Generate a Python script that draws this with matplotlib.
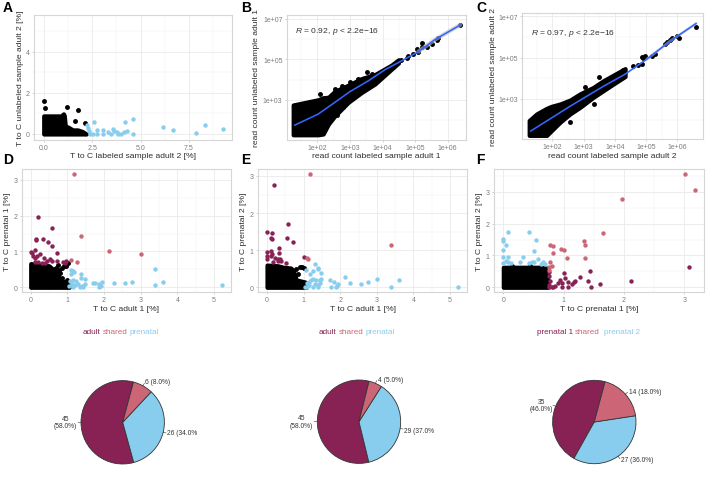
import matplotlib
matplotlib.use("Agg")
import matplotlib.pyplot as plt
import matplotlib.ticker
import numpy as np

plt.rcParams['font.family'] = ['Liberation Sans', 'DejaVu Sans']
plt.rcParams['mathtext.fontset'] = 'custom'
plt.rcParams['mathtext.rm'] = 'Liberation Sans'
plt.rcParams['mathtext.it'] = 'Liberation Sans:italic'

W, H = 709, 502
ADULT, SHARED, BLUE = '#882255', '#CC6677', '#88CCEE'

# ---------- Panel A ----------
a_dense_x = [0, 0.3, 0.6, 0.9, 1.02, 1.06, 1.12, 1.25, 1.5, 1.75, 2.0, 2.2]
a_dense_y = [0.88, 0.88, 0.88, 0.88, 0.98, 0.9, 0.36, 0.34, 0.2, 0.2, 0.12, 0.0]
a_black_x = [0.02, 0.07, 1.22, 1.75, 1.62, 2.13]
a_black_y = [1.59, 1.26, 1.30, 1.17, 0.62, 0.53]
a_blue_x = [2.25, 2.60, 2.31, 2.36, 2.39, 2.53, 2.74, 2.74, 3.04, 3.08, 3.34, 3.46, 3.60, 3.63,
            3.77, 3.85, 3.97, 4.15, 4.28, 4.18, 4.59, 4.59, 6.18, 6.69, 7.86, 8.31, 9.25]
a_blue_y = [0.44, 0.57, 0.28, 0.16, 0.0, 0.0, 0.0, 0.19, 0.19, 0.0, 0.08, 0.0, 0.24, 0.15,
            0.08, 0.0, 0.0, 0.11, 0.15, 0.57, 0.74, 0.0, 0.34, 0.18, 0.03, 0.42, 0.23]

# ---------- Panel B (log10 of read counts) ----------
b_env_x = [1.26, 2.03, 2.18, 2.34, 2.54, 2.95, 3.36, 3.77, 4.28, 4.49]
b_env_lo = [1.26, 1.26, 1.30, 1.79, 2.20, 2.87, 3.36, 3.78, 4.52, 4.82]
b_env_hi = [2.74, 3.00, 3.10, 3.12, 3.42, 3.72, 4.05, 4.25, 4.72, 4.98]
b_pts_x = [2.08, 3.51, 3.00, 2.44, 2.34, 4.56, 4.74, 4.79, 4.95, 5.05, 5.08, 5.21, 5.20, 5.36, 5.51, 5.66, 5.71, 6.38,
           2.54, 2.75, 3.26, 3.67, 2.60, 2.80]
b_pts_y = [3.28, 4.36, 3.86, 2.21, 1.96, 4.97, 5.05, 5.15, 5.26, 5.51, 5.35, 5.81, 5.60, 5.63, 5.76, 5.98, 6.04, 6.72,
           3.53, 3.66, 4.02, 4.27, 2.25, 2.62]
b_fit_x = [1.31, 2.03, 2.54, 3.00, 3.57, 4.08, 4.59, 5.10, 5.61, 6.38]
b_fit_y = [1.74, 2.29, 2.87, 3.40, 3.94, 4.49, 4.93, 5.38, 5.98, 6.70]

# ---------- Panel C (log10 of read counts) ----------
c_env_x = [1.26, 1.50, 1.82, 1.98, 2.25, 2.57, 2.89, 3.31, 3.63, 3.95, 4.33]
c_env_lo = [1.24, 1.24, 1.24, 1.48, 1.88, 2.28, 2.60, 3.08, 3.40, 3.72, 4.09]
c_env_hi = [1.96, 2.28, 2.55, 2.65, 2.76, 2.95, 3.25, 3.56, 3.88, 4.15, 4.47]
c_pts_x = [3.50, 3.33, 2.57, 3.05, 4.27, 4.59, 4.75, 4.86, 4.91, 4.97, 4.86, 5.18, 5.29, 5.61, 5.77, 5.82, 5.66, 5.98, 6.05, 6.60]
c_pts_y = [4.06, 2.76, 1.91, 3.59, 4.41, 4.60, 4.65, 4.68, 5.00, 5.08, 5.05, 5.08, 5.16, 5.64, 5.85, 5.96, 5.75, 6.04, 5.96, 6.49]
c_fit_x = [1.31, 2.57, 3.63, 4.33, 5.02, 5.77, 6.60]
c_fit_y = [1.45, 2.65, 3.61, 4.20, 4.92, 5.80, 6.65]

# ---------- Panel D ----------
d_dense_x = [0, 0.5, 0.65, 0.73, 0.8, 1.0, 1.05]
d_dense_y = [0.66, 0.60, 0.46, 0.37, 0.17, 0.15, 0.0]
d_black_x = [0.75, 0.85, 0.90, 0.70, 0.78, 0.72, 0.65, 0.80, 0.75, 1.01, 0.95, 1.00, 0.85]
d_black_y = [0.62, 0.55, 0.58, 0.55, 0.48, 0.45, 0.50, 0.40, 0.35, 0.67, 0.60, 0.20, 0.25]
d_shared_x = [1.17, 1.37, 2.13, 3.01, 1.26, 1.10]
d_shared_y = [3.16, 1.44, 1.01, 0.94, 0.70, 0.77]
d_adult_x = [0.21, 0.58, 0.33, 0.15, 0.15, 0.48, 0.57, 0.73, 0.00, 0.03, 0.12, 0.07, 0.25, 0.18, 0.12, 0.35,
             0.53, 0.44, 0.73, 0.89, 0.96, 0.12, 0.21, 0.30, 0.39, 0.57, 0.94]
d_adult_y = [1.96, 1.65, 1.35, 1.35, 1.31, 1.26, 1.16, 0.96, 0.99, 0.95, 1.05, 0.88, 0.93, 0.88, 0.82, 0.81,
             0.79, 0.74, 0.73, 0.70, 0.74, 0.70, 0.70, 0.68, 0.68, 0.72, 0.68]
d_blue_x = [1.09, 1.15, 1.18, 1.09, 1.37, 1.37, 1.48, 3.39, 3.61, 3.39, 5.23, 2.75, 2.57, 2.26, 1.95, 1.87,
            1.91, 1.85, 1.75, 1.71, 1.07, 1.16, 1.24, 1.12, 1.21, 1.15, 1.30, 1.39, 1.48, 1.35, 1.44, 1.05]
d_blue_y = [0.48, 0.46, 0.42, 0.37, 0.37, 0.25, 0.24, 0.52, 0.14, 0.07, 0.06, 0.14, 0.11, 0.11, 0.16, 0.09,
            0.05, 0.00, 0.13, 0.11, 0.17, 0.19, 0.17, 0.09, 0.07, 0.02, 0.09, 0.05, 0.09, 0.00, 0.02, 0.05]

# ---------- Panel E ----------
e_dense_x = [0, 0.3, 0.45, 0.65, 0.72, 0.8, 1.05, 1.08]
e_dense_y = [0.60, 0.58, 0.54, 0.52, 0.45, 0.20, 0.14, 0.0]
e_black_x = [0.90, 0.95, 1.00, 0.85, 0.80]
e_black_y = [0.54, 0.56, 0.52, 0.35, 0.50]
e_shared_x = [1.17, 3.38, 1.08, 1.13]
e_shared_y = [3.05, 1.13, 0.78, 0.77]
e_adult_x = [0.20, 0.57, 0.00, 0.15, 0.11, 0.15, 0.55, 0.72, 0.33, 0.01, 0.11, 0.13, 0.01, 0.01, 0.11, 0.32,
             0.22, 0.29, 0.36, 0.31, 0.38, 0.17, 0.51, 1.00]
e_adult_y = [2.77, 1.71, 1.48, 1.46, 1.33, 1.31, 1.33, 1.21, 1.06, 0.94, 0.97, 0.90, 0.85, 0.76, 0.84, 0.92,
             0.79, 0.77, 0.77, 0.70, 0.70, 0.67, 0.66, 0.81]
e_blue_x = [1.30, 1.38, 1.38, 1.27, 1.07, 1.17, 1.48, 1.71, 2.12, 3.01, 3.61, 2.75, 2.57, 2.26, 1.95, 1.84,
            1.74, 1.88, 1.91, 3.38, 5.23, 1.10, 1.15, 1.20, 1.25, 1.35, 1.45, 1.48, 1.30, 1.40, 1.45, 1.25, 1.40, 1.05, 1.15, 1.10]
e_blue_y = [0.63, 0.53, 0.49, 0.43, 0.47, 0.36, 0.38, 0.21, 0.28, 0.22, 0.21, 0.15, 0.09, 0.11, 0.09, 0.13,
            0.00, 0.00, 0.04, 0.00, 0.00, 0.02, 0.05, 0.20, 0.22, 0.20, 0.20, 0.22, 0.10, 0.06, 0.12, 0.02, 0.00, 0.00, 0.14, 0.12]

# ---------- Panel F ----------
f_dense_x = [0, 0.2, 0.4, 0.6, 0.73, 0.74]
f_dense_y = [0.63, 0.63, 0.63, 0.63, 0.60, 0.0]
f_black_x = [0.15, 0.45]
f_black_y = [0.67, 0.68]
f_shared_x = [3.01, 3.17, 1.96, 1.66, 1.33, 1.35, 0.78, 0.82, 0.96, 1.01, 0.82, 1.06, 1.35, 0.77, 0.80, 0.75, 0.75]
f_shared_y = [3.55, 3.06, 2.77, 1.70, 1.46, 1.32, 1.34, 1.30, 1.21, 1.18, 1.07, 0.92, 0.92, 0.78, 0.67, 0.63, 0.54]
f_adult_x = [3.07, 2.11, 1.44, 1.00, 1.27, 1.02, 1.41, 1.60, 1.45, 1.07, 0.94, 1.08, 1.19, 1.17, 1.14, 0.98, 0.90,
             0.86, 0.77, 0.80, 0.76, 0.83, 0.97, 0.75, 0.75, 0.76]
f_adult_y = [0.64, 0.20, 0.50, 0.46, 0.31, 0.28, 0.21, 0.09, 0.00, 0.00, 0.22, 0.17, 0.21, 0.18, 0.10, 0.15, 0.13,
             0.05, 0.21, 0.02, 0.02, 0.02, 0.00, 0.47, 0.37, 0.08]
f_blue_x = [0.08, 0.42, 0.00, 0.00, 0.54, 0.04, 0.00, 0.51, 0.00, 0.07, 0.33, 0.57, 0.00, 0.04, 0.07, 0.12, 0.28,
            0.43, 0.47, 0.51, 0.66, 0.62, 0.69]
f_blue_y = [1.72, 1.72, 1.52, 1.46, 1.48, 1.33, 1.18, 1.13, 0.94, 0.96, 0.96, 0.90, 0.76, 0.84, 0.80, 0.77, 0.79,
            0.75, 0.78, 0.80, 0.80, 0.73, 0.73]

# ---------- Pies ----------
pie_d_values = [45, 26, 6]
pie_e_values = [45, 29, 4]
pie_f_values = [35, 27, 14]
pie_d_labels = ['45\n(58.0%)', '26 (34.0%', '6 (8.0%)']
pie_e_labels = ['45\n(58.0%)', '29 (37.0%', '4 (5.0%)']
pie_f_labels = ['35\n(46.0%)', '27 (36.0%)', '14 (18.0%)']

AXIS_COL, TICK_COL = '#2e2e2e', '#7d7d7d'
LABEL_PT, TICK_PT = 6.1, 5.0
MS_BLACK, MS_COL = 12.5, 10.0
BLACK_LW = 3.0

fig = plt.figure(figsize=(W / 100, H / 100), dpi=100)


def panel(box, xa, ya, log=False):
    """box = left,right,top,bottom in px; xa/ya = two (value, px) anchors for each scale."""
    L, R, T, B = box
    ax = fig.add_axes([L / W, 1 - B / H, (R - L) / W, (B - T) / H])
    (v0, p0), (v1, p1) = xa
    k = (v1 - v0) / (p1 - p0)
    xl = (v0 + (L - p0) * k, v0 + (R - p0) * k)
    (v0, p0), (v1, p1) = ya
    k = (v1 - v0) / (p1 - p0)
    yl = (v0 + (B - p0) * k, v0 + (T - p0) * k)
    if log:
        ax.set_xscale('log')
        ax.set_yscale('log')
        ax.set_xlim(10 ** xl[0], 10 ** xl[1])
        ax.set_ylim(10 ** yl[0], 10 ** yl[1])
    else:
        ax.set_xlim(*xl)
        ax.set_ylim(*yl)
    for s in ax.spines.values():
        s.set_color('#d6d6d6')
        s.set_linewidth(0.8)
    ax.set_axisbelow(True)
    ax.tick_params(which='major', length=1.5, width=0.4, color='#b0b0b0',
                   labelsize=TICK_PT, labelcolor=TICK_COL, pad=1.5)
    ax.tick_params(which='minor', length=0)
    return ax


def style_grid(ax, xmaj, xmin, ymaj, ymin):
    ax.set_xticks(xmaj)
    ax.set_xticks(xmin, minor=True)
    ax.set_yticks(ymaj)
    ax.set_yticks(ymin, minor=True)
    ax.tick_params(axis='both', which='minor', labelbottom=False, labelleft=False)
    ax.grid(True, which='major', color='#e8e8e8', lw=0.55)
    ax.grid(True, which='minor', color='#f1f1f1', lw=0.35)


def labels(ax, box, xlabel, ylabel, xy_px, yx_px):
    L, R, T, B = box
    ax.set_xlabel(xlabel, fontsize=LABEL_PT, color=AXIS_COL, va='center')
    ax.set_ylabel(ylabel, fontsize=LABEL_PT, color=AXIS_COL, va='center')
    ax.xaxis.set_label_coords(0.5, -(xy_px - B) / (B - T))
    ax.yaxis.set_label_coords(-(L - yx_px) / (R - L), 0.5)


def dense(ax, x, y):
    ax.fill_between(x, 0, y, facecolor='black', edgecolor='black', lw=BLACK_LW,
                    joinstyle='round', zorder=3)


def pts(ax, x, y, c, s=MS_COL, z=4):
    ax.scatter(x, y, s=s, c=c, linewidths=0, zorder=z)


def fmt_sci(v):
    return [f'1e+{int(round(np.log10(t))):02d}' for t in v]


# A
box = (34, 232, 16, 141)
ax = panel(box, ((0, 43.7), (7.5, 189)), ((0, 135), (4, 52.7)))
style_grid(ax, [0, 2.5, 5, 7.5], [1.25, 3.75, 6.25, 8.75], [0, 2, 4], [1, 3, 5])
ax.set_xticklabels(['0.0', '2.5', '5.0', '7.5'])
dense(ax, a_dense_x, a_dense_y)
pts(ax, a_black_x, a_black_y, 'black', MS_BLACK)
pts(ax, a_blue_x, a_blue_y, BLUE)
labels(ax, box, 'T to C labeled sample adult 2 [%]', 'T to C unlabeled sample adult 2 [%]', 156.7, 20.7)


def log_panel(box, xa, ya, ex, lo, hi, px, py, fx_, fy_, txt, txt_px, xlabel, ylabel, yx_px, ribbon):
    ax = panel(box, xa, ya, log=True)
    xm = [1e2, 1e3, 1e4, 1e5, 1e6]
    xn = [10 ** v for v in (1.5, 2.5, 3.5, 4.5, 5.5)]
    ym = [1e3, 1e5, 1e7]
    yn = [1e2, 1e4, 1e6]
    ax.xaxis.set_major_locator(matplotlib.ticker.FixedLocator(xm))
    ax.xaxis.set_minor_locator(matplotlib.ticker.FixedLocator(xn))
    ax.yaxis.set_major_locator(matplotlib.ticker.FixedLocator(ym))
    ax.yaxis.set_minor_locator(matplotlib.ticker.FixedLocator(yn))
    ax.xaxis.set_major_formatter(matplotlib.ticker.FixedFormatter(fmt_sci(xm)))
    ax.yaxis.set_major_formatter(matplotlib.ticker.FixedFormatter(fmt_sci(ym)))
    ax.xaxis.set_minor_formatter(matplotlib.ticker.NullFormatter())
    ax.yaxis.set_minor_formatter(matplotlib.ticker.NullFormatter())
    ax.grid(True, which='major', color='#e8e8e8', lw=0.55)
    ax.grid(True, which='minor', color='#f1f1f1', lw=0.35)
    ex, lo, hi = 10 ** np.array(ex), 10 ** np.array(lo), 10 ** np.array(hi)
    ax.fill_between(ex, lo, hi, facecolor='black', edgecolor='black', lw=BLACK_LW,
                    joinstyle='round', zorder=3)
    pts(ax, 10 ** np.array(px), 10 ** np.array(py), 'black', MS_BLACK)
    fx_, fy_ = 10 ** np.array(fx_), 10 ** np.array(fy_)
    ax.plot(fx_[-3:], fy_[-3:], color='#bdbdbd', lw=ribbon, alpha=0.6, zorder=4, solid_capstyle='round')
    ax.plot(fx_, fy_, color='#3366FF', lw=1.15, zorder=5)
    fig.text(txt_px[0] / W, 1 - txt_px[1] / H, txt, fontsize=6.1, color='#333333', va='center', ha='left')
    labels(ax, box, xlabel, ylabel, 157, yx_px)
    return ax


log_panel((286.7, 466, 15.7, 141), ((2, 317.3), (6, 447.7)), ((3, 100.7), (7, 20)),
          b_env_x, b_env_lo, b_env_hi, b_pts_x, b_pts_y, b_fit_x, b_fit_y,
          r'$R$ = 0.92, $p$ < 2.2e$-$16', (295, 32),
          'read count labeled sample adult 1', 'read count unlabeled sample adult 1', 256.7, 3.0)
log_panel((522.3, 703, 14, 140), ((2, 552.3), (6, 677.3)), ((3, 100), (7, 17.3)),
          c_env_x, c_env_lo, c_env_hi, c_pts_x, c_pts_y, c_fit_x, c_fit_y,
          r'$R$ = 0.97, $p$ < 2.2e$-$16', (531, 33.7),
          'read count labeled sample adult 2', 'read count unlabeled sample adult 2', 493.3, 2.0)

# D
box = (21.7, 231, 169.7, 293.3)
ax = panel(box, ((0, 30.7), (5, 214)), ((0, 288.3), (3, 180.7)))
style_grid(ax, range(6), [0.5, 1.5, 2.5, 3.5, 4.5], range(4), [0.5, 1.5, 2.5])
dense(ax, d_dense_x, d_dense_y)
pts(ax, d_black_x, d_black_y, 'black', MS_BLACK)
pts(ax, d_adult_x, d_adult_y, ADULT)
pts(ax, d_shared_x, d_shared_y, SHARED)
pts(ax, d_blue_x, d_blue_y, BLUE)
labels(ax, box, 'T to C adult 1 [%]', 'T to C prenatal 1 [%]', 309.3, 7.3)

# E
box = (257.7, 467.3, 169.7, 293.3)
ax = panel(box, ((0, 267), (5, 450)), ((0, 288.3), (3, 177)))
style_grid(ax, range(6), [0.5, 1.5, 2.5, 3.5, 4.5], range(4), [0.5, 1.5, 2.5])
dense(ax, e_dense_x, e_dense_y)
pts(ax, e_black_x, e_black_y, 'black', MS_BLACK)
pts(ax, e_adult_x, e_adult_y, ADULT)
pts(ax, e_shared_x, e_shared_y, SHARED)
pts(ax, e_blue_x, e_blue_y, BLUE)
labels(ax, box, 'T to C adult 1 [%]', 'T to C prenatal 2 [%]', 309.3, 243.7)

# F
box = (494, 704, 169.7, 293.3)
ax = panel(box, ((0, 503.3), (3, 684.3)), ((0, 288.3), (3, 192.7)))
style_grid(ax, range(4), [0.5, 1.5, 2.5], range(4), [0.5, 1.5, 2.5, 3.5])
dense(ax, f_dense_x, f_dense_y)
pts(ax, f_black_x, f_black_y, 'black', MS_BLACK)
pts(ax, f_blue_x, f_blue_y, BLUE)
pts(ax, f_adult_x, f_adult_y, ADULT)
pts(ax, f_shared_x, f_shared_y, SHARED)
labels(ax, box, 'T to C prenatal 1 [%]', 'T to C prenatal 2 [%]', 309.3, 479.3)

# Panel letters
for letter, x, y in [('A', 3, 8), ('B', 241, 8), ('C', 476.5, 8), ('D', 3, 160), ('E', 241, 160), ('F', 476.5, 160)]:
    fig.text(x / W, 1 - y / H, letter, fontsize=10, fontweight='bold', color='black', va='center', ha='left')

# Coloured legend rows
for words, y in [((('adult', 82.3, ADULT), ('shared', 102.7, SHARED), ('prenatal', 130, BLUE)), 332.7),
                 ((('adult', 318.3, ADULT), ('shared', 338.7, SHARED), ('prenatal', 366, BLUE)), 332.7),
                 ((('prenatal 1', 536.7, ADULT), ('shared', 575, SHARED), ('prenatal 2', 604.3, BLUE)), 332.7)]:
    for t, x, c in words:
        fig.text(x / W, 1 - y / H, t, fontsize=5.9, color=c, va='center', ha='left')


def pie(cx, cy, r, values, texts, start, spots):
    s = r * 1.1
    ax = fig.add_axes([(cx - s) / W, 1 - (cy + s) / H, 2 * s / W, 2 * s / H])
    wedges, _ = ax.pie(values, colors=[ADULT, BLUE, SHARED], startangle=start, counterclock=True,
                       radius=1, wedgeprops=dict(edgecolor='#333333', linewidth=0.6))
    ax.set_xlim(-1.1, 1.1)
    ax.set_ylim(-1.1, 1.1)
    for w in wedges:
        a = np.deg2rad((w.theta1 + w.theta2) / 2)
        ax.plot([np.cos(a), 1.07 * np.cos(a)], [np.sin(a), 1.07 * np.sin(a)],
                color='#333333', lw=0.4, clip_on=False)
    for t, (x, y, ha) in zip(texts, spots):
        fig.text(x / W, 1 - y / H, t, fontsize=4.8, color='#333333', ha=ha, va='center',
                 multialignment='center', linespacing=1.15)


pie(122.7, 423.3, 41.7, pie_d_values, pie_d_labels, 75,
    [(65.7, 423, 'center'), (167, 434, 'left'), (144.7, 382.7, 'left')])
pie(359, 422.7, 41.7, pie_e_values, pie_e_labels, 76,
    [(301.7, 422.3, 'center'), (403.7, 431.3, 'left'), (377.7, 381, 'left')])
pie(594.3, 423, 41.7, pie_f_values, pie_f_labels, 75,
    [(541.3, 406, 'center'), (620.7, 460.7, 'left'), (629, 392.3, 'left')])

fig.savefig('out.png', dpi=100)
